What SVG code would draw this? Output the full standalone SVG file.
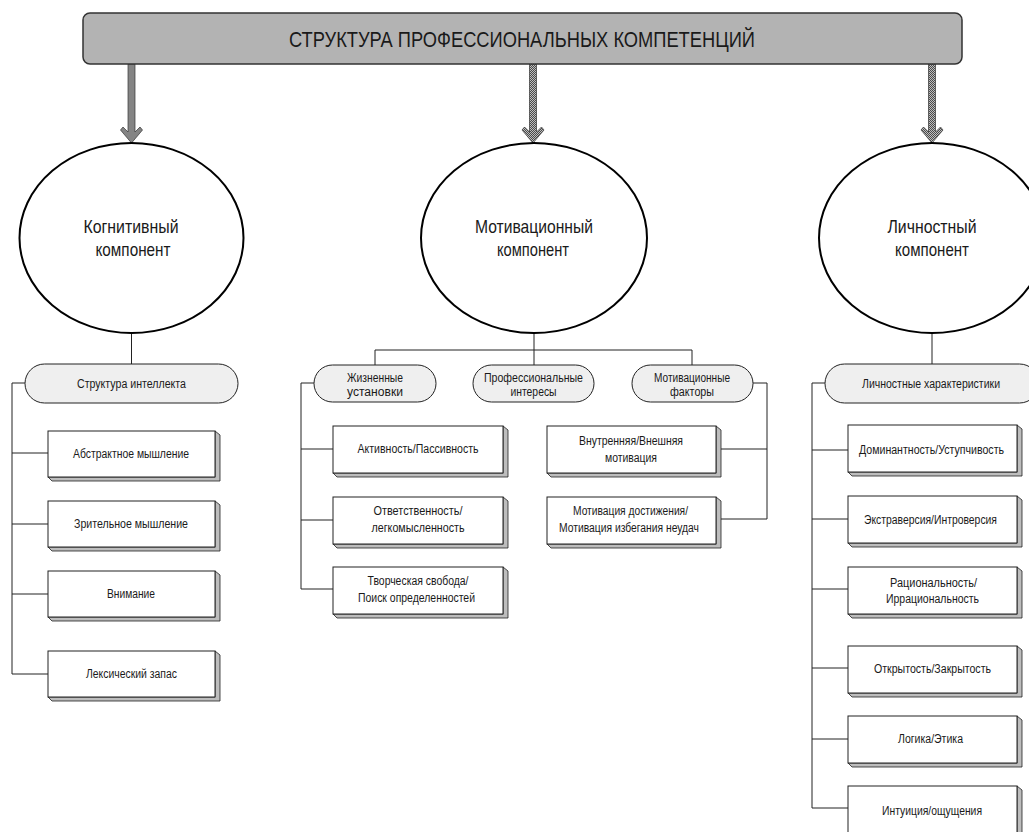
<svg xmlns="http://www.w3.org/2000/svg" width="1029" height="832" viewBox="0 0 1029 832">
<defs>
<pattern id="chk" width="2" height="2" patternUnits="userSpaceOnUse">
<rect width="2" height="2" fill="#bdbdbd"/>
<rect width="1" height="1" fill="#4a4a4a"/>
<rect x="1" y="1" width="1" height="1" fill="#4a4a4a"/>
</pattern>
<symbol id="arrow" overflow="visible">
<polygon points="-3.5,0 3.5,0 3.5,68 8.5,63 11,66 0,79 -11,66 -8.5,63 -3.5,68" fill="url(#chk)" stroke="#333" stroke-width="0.7"/>
</symbol>
</defs>
<style>
text{font-family:"Liberation Sans",Arial,Helvetica,sans-serif;fill:#1a1a1a;text-anchor:middle}
.t{font-size:22px}
.e{font-size:19px}
.s{font-size:12px}
.ell{fill:#fff;stroke:#000;stroke-width:2}
.pill{fill:#efefef;stroke:#222;stroke-width:1}
.box{fill:#fff;stroke:#222;stroke-width:1}
.sh{fill:#bdbdbd;stroke:#222;stroke-width:0.8}
.c{fill:none;stroke:#222;stroke-width:1}
</style>
<rect width="1029" height="832" fill="#fff"/>

<g id="connectors">
<path class="c" d="M131.5,333 V364 M25,383 H12 V674 M12,453 H48 M12,524 H48 M12,594 H48 M12,674 H48"/>
<path class="c" d="M534,333 V365 M375,365 V350 H692 V365 M314,383 H301 V589 M301,449 H333 M301,520 H333 M301,589 H333 M753,383 H767 V519 M767,449 H721 M767,519 H721"/>
<path class="c" d="M932,333 V364 M825,383 H812 V808 M812,450 H848 M812,519 H848 M812,589 H848 M812,668 H848 M812,739 H848 M812,808 H848"/>
<use href="#arrow" x="131.5" y="64"/>
<use href="#arrow" x="533" y="64"/>
<use href="#arrow" x="932" y="64"/>
</g>

<g id="title">
<rect x="83" y="13" width="879" height="51" rx="7" fill="#b3b3b3" stroke="#333" stroke-width="1.5"/>
<text class="t" x="522" y="47" textLength="466" lengthAdjust="spacingAndGlyphs">СТРУКТУРА ПРОФЕССИОНАЛЬНЫХ КОМПЕТЕНЦИЙ</text>
</g>

<g id="cognitive">
<ellipse class="ell" cx="131.5" cy="238" rx="112" ry="95"/>
<text class="e" x="131" y="233" textLength="95" lengthAdjust="spacingAndGlyphs">Когнитивный</text>
<text class="e" x="133" y="256" textLength="75" lengthAdjust="spacingAndGlyphs">компонент</text>
</g>
<g id="motivational">
<ellipse class="ell" cx="534" cy="238" rx="113" ry="95"/>
<text class="e" x="534" y="233" textLength="118" lengthAdjust="spacingAndGlyphs">Мотивационный</text>
<text class="e" x="533" y="256" textLength="72" lengthAdjust="spacingAndGlyphs">компонент</text>
</g>
<g id="personal">
<ellipse class="ell" cx="932" cy="238" rx="113" ry="95"/>
<text class="e" x="932" y="233" textLength="89" lengthAdjust="spacingAndGlyphs">Личностный</text>
<text class="e" x="932" y="256" textLength="74" lengthAdjust="spacingAndGlyphs">компонент</text>
</g>

<g id="intellect">
<rect class="pill" x="25" y="364" width="213" height="39" rx="19.5"/>
<text class="s" x="131.5" y="388" textLength="109" lengthAdjust="spacingAndGlyphs">Структура интеллекта</text>
</g>
<g id="life">
<rect class="pill" x="314" y="365" width="122" height="37" rx="18.5"/>
<text class="s" x="375" y="382" textLength="56" lengthAdjust="spacingAndGlyphs">Жизненные</text>
<text class="s" x="375" y="396" textLength="56" lengthAdjust="spacingAndGlyphs">установки</text>
</g>
<g id="interests">
<rect class="pill" x="473" y="365" width="121" height="37" rx="18.5"/>
<text class="s" x="533.5" y="382" textLength="99" lengthAdjust="spacingAndGlyphs">Профессиональные</text>
<text class="s" x="533.5" y="396" textLength="46" lengthAdjust="spacingAndGlyphs">интересы</text>
</g>
<g id="factors">
<rect class="pill" x="632" y="365" width="121" height="37" rx="18.5"/>
<text class="s" x="692" y="382" textLength="76" lengthAdjust="spacingAndGlyphs">Мотивационные</text>
<text class="s" x="692" y="396" textLength="44" lengthAdjust="spacingAndGlyphs">факторы</text>
</g>
<g id="traits">
<rect class="pill" x="825" y="364" width="214" height="39" rx="19.5"/>
<text class="s" x="931" y="388" textLength="138" lengthAdjust="spacingAndGlyphs">Личностные характеристики</text>
</g>

<g id="abstract">
<polygon class="sh" points="215,431 220,435 220,481 52,481 48,477 215,477"/>
<rect class="box" x="48" y="431" width="167" height="46"/>
<text class="s" x="131" y="458" textLength="116" lengthAdjust="spacingAndGlyphs">Абстрактное мышление</text>
</g>
<g id="visual">
<polygon class="sh" points="215,501 220,505 220,551 52,551 48,547 215,547"/>
<rect class="box" x="48" y="501" width="167" height="46"/>
<text class="s" x="131" y="528" textLength="114" lengthAdjust="spacingAndGlyphs">Зрительное мышление</text>
</g>
<g id="attention">
<polygon class="sh" points="215,571 220,575 220,621 52,621 48,617 215,617"/>
<rect class="box" x="48" y="571" width="167" height="46"/>
<text class="s" x="131" y="598" textLength="48" lengthAdjust="spacingAndGlyphs">Внимание</text>
</g>
<g id="lexicon">
<polygon class="sh" points="215,651 220,655 220,701 52,701 48,697 215,697"/>
<rect class="box" x="48" y="651" width="167" height="46"/>
<text class="s" x="131.5" y="678" textLength="91" lengthAdjust="spacingAndGlyphs">Лексический запас</text>
</g>

<g id="activity">
<polygon class="sh" points="503,426 508,430 508,477 337,477 333,473 503,473"/>
<rect class="box" x="333" y="426" width="170" height="47"/>
<text class="s" x="418" y="453" textLength="121" lengthAdjust="spacingAndGlyphs">Активность/Пассивность</text>
</g>
<g id="responsibility">
<polygon class="sh" points="503,497 508,501 508,548 337,548 333,544 503,544"/>
<rect class="box" x="333" y="497" width="170" height="47"/>
<text class="s" x="418" y="515" textLength="89" lengthAdjust="spacingAndGlyphs">Ответственность/</text>
<text class="s" x="418" y="532" textLength="93" lengthAdjust="spacingAndGlyphs">легкомысленность</text>
</g>
<g id="creative">
<polygon class="sh" points="503,567 508,571 508,618 337,618 333,614 503,614"/>
<rect class="box" x="333" y="567" width="170" height="47"/>
<text class="s" x="418" y="585" textLength="101" lengthAdjust="spacingAndGlyphs">Творческая свобода/</text>
<text class="s" x="416.5" y="602" textLength="117" lengthAdjust="spacingAndGlyphs">Поиск определенностей</text>
</g>

<g id="inner">
<polygon class="sh" points="716,426 721,430 721,477 551,477 547,473 716,473"/>
<rect class="box" x="547" y="426" width="169" height="47"/>
<text class="s" x="631" y="445" textLength="104" lengthAdjust="spacingAndGlyphs">Внутренняя/Внешняя</text>
<text class="s" x="631" y="462" textLength="52" lengthAdjust="spacingAndGlyphs">мотивация</text>
</g>
<g id="achievement">
<polygon class="sh" points="716,497 721,501 721,548 551,548 547,544 716,544"/>
<rect class="box" x="547" y="497" width="169" height="47"/>
<text class="s" x="630.5" y="515" textLength="115" lengthAdjust="spacingAndGlyphs">Мотивация достижения/</text>
<text class="s" x="629" y="532" textLength="140" lengthAdjust="spacingAndGlyphs">Мотивация избегания неудач</text>
</g>

<g id="dominance">
<polygon class="sh" points="1017,425 1022,429 1022,476 852,476 848,472 1017,472"/>
<rect class="box" x="848" y="425" width="169" height="47"/>
<text class="s" x="931.5" y="454" textLength="145" lengthAdjust="spacingAndGlyphs">Доминантность/Уступчивость</text>
</g>
<g id="extraversion">
<polygon class="sh" points="1017,496 1022,500 1022,547 852,547 848,543 1017,543"/>
<rect class="box" x="848" y="496" width="169" height="47"/>
<text class="s" x="930.5" y="524" textLength="133" lengthAdjust="spacingAndGlyphs">Экстраверсия/Интроверсия</text>
</g>
<g id="rationality">
<polygon class="sh" points="1017,567 1022,571 1022,618 852,618 848,614 1017,614"/>
<rect class="box" x="848" y="567" width="169" height="47"/>
<text class="s" x="933.5" y="587" textLength="87" lengthAdjust="spacingAndGlyphs">Рациональность/</text>
<text class="s" x="932.5" y="603" textLength="93" lengthAdjust="spacingAndGlyphs">Иррациональность</text>
</g>
<g id="openness">
<polygon class="sh" points="1017,646 1022,650 1022,697 852,697 848,693 1017,693"/>
<rect class="box" x="848" y="646" width="169" height="47"/>
<text class="s" x="932.5" y="673" textLength="117" lengthAdjust="spacingAndGlyphs">Открытость/Закрытость</text>
</g>
<g id="logic">
<polygon class="sh" points="1017,716 1022,720 1022,767 852,767 848,763 1017,763"/>
<rect class="box" x="848" y="716" width="169" height="47"/>
<text class="s" x="930.5" y="743" textLength="65" lengthAdjust="spacingAndGlyphs">Логика/Этика</text>
</g>
<g id="intuition">
<polygon class="sh" points="1017,786 1022,790 1022,837 852,837 848,833 1017,833"/>
<rect class="box" x="848" y="786" width="169" height="47"/>
<text class="s" x="932" y="815" textLength="100" lengthAdjust="spacingAndGlyphs">Интуиция/ощущения</text>
</g>
</svg>
